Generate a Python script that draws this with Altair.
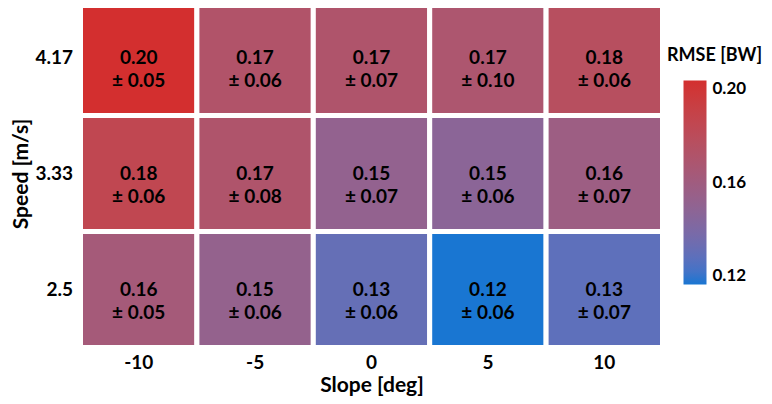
import altair as alt
import pandas as pd

slopes = ["-10", "-5", "0", "5", "10"]
speeds = ["4.17", "3.33", "2.5"]

# mean RMSE per speed row (top to bottom) and slope column
rmse_417 = [0.200, 0.171, 0.170, 0.168, 0.176]
rmse_333 = [0.183, 0.170, 0.152, 0.148, 0.158]
rmse_250 = [0.163, 0.153, 0.133, 0.120, 0.131]

std_417 = [0.05, 0.06, 0.07, 0.10, 0.06]
std_333 = [0.06, 0.08, 0.07, 0.06, 0.07]
std_250 = [0.05, 0.06, 0.06, 0.06, 0.07]

legend_values = [0.12, 0.16, 0.20]

rows = []
for sp, means, stds in zip(speeds, [rmse_417, rmse_333, rmse_250], [std_417, std_333, std_250]):
    for sl, m, s in zip(slopes, means, stds):
        rows.append({"slope": sl, "speed": sp, "rmse": m, "std": s,
                     "label": f"{m:.2f}\n\u00b1 {s:.2f}"})
df = pd.DataFrame(rows)

FONT = "Lato"

base = alt.Chart(df).encode(
    x=alt.X("slope:N", sort=slopes, title="Slope [deg]",
            axis=alt.Axis(labelAngle=0, ticks=False, domain=False, labelPadding=6,
                          titlePadding=2, titleFontSize=21)),
    y=alt.Y("speed:N", sort=speeds, title="Speed [m/s]",
            axis=alt.Axis(ticks=False, domain=False, labelPadding=8, titlePadding=3,
                          titleFontSize=21)),
)

rects = base.mark_rect(stroke="white", strokeWidth=5).encode(
    color=alt.Color(
        "rmse:Q",
        title="RMSE [BW]",
        scale=alt.Scale(domain=[0.12, 0.20], range=["#1976d2", "#d32f2f"], interpolate="lab"),
        legend=alt.Legend(
            orient="none", direction="vertical", legendX=586, legendY=47,
            gradientLength=204, gradientThickness=23, gradientStrokeWidth=0,
            values=legend_values, format=".2f", labelOffset=6,
            titleAnchor="middle", titlePadding=16,
        ),
    )
)

texts = base.mark_text(fontSize=19, font=FONT, fontWeight="bold", color="black",
                       lineBreak="\n", lineHeight=23, baseline="middle").encode(
    text="label:N"
)

chart = (rects + texts).properties(
    width=582, height=348,
    autosize=alt.AutoSizeParams(type="none"),
    padding={"left": 72.5, "top": -8.5, "right": 101.5, "bottom": 48},
).configure_view(stroke=None).configure_axis(
    labelFont=FONT, labelFontSize=19, labelFontWeight="bold", labelColor="black",
    titleFont=FONT, titleFontWeight="bold", titleColor="black",
    grid=False,
).configure_legend(
    labelFont=FONT, labelFontSize=17, labelFontWeight="bold", labelColor="black",
    titleFont=FONT, titleFontSize=18, titleFontWeight="bold", titleColor="black",
)

chart.save("out.html", embed_options={"renderer": "svg", "actions": False})
